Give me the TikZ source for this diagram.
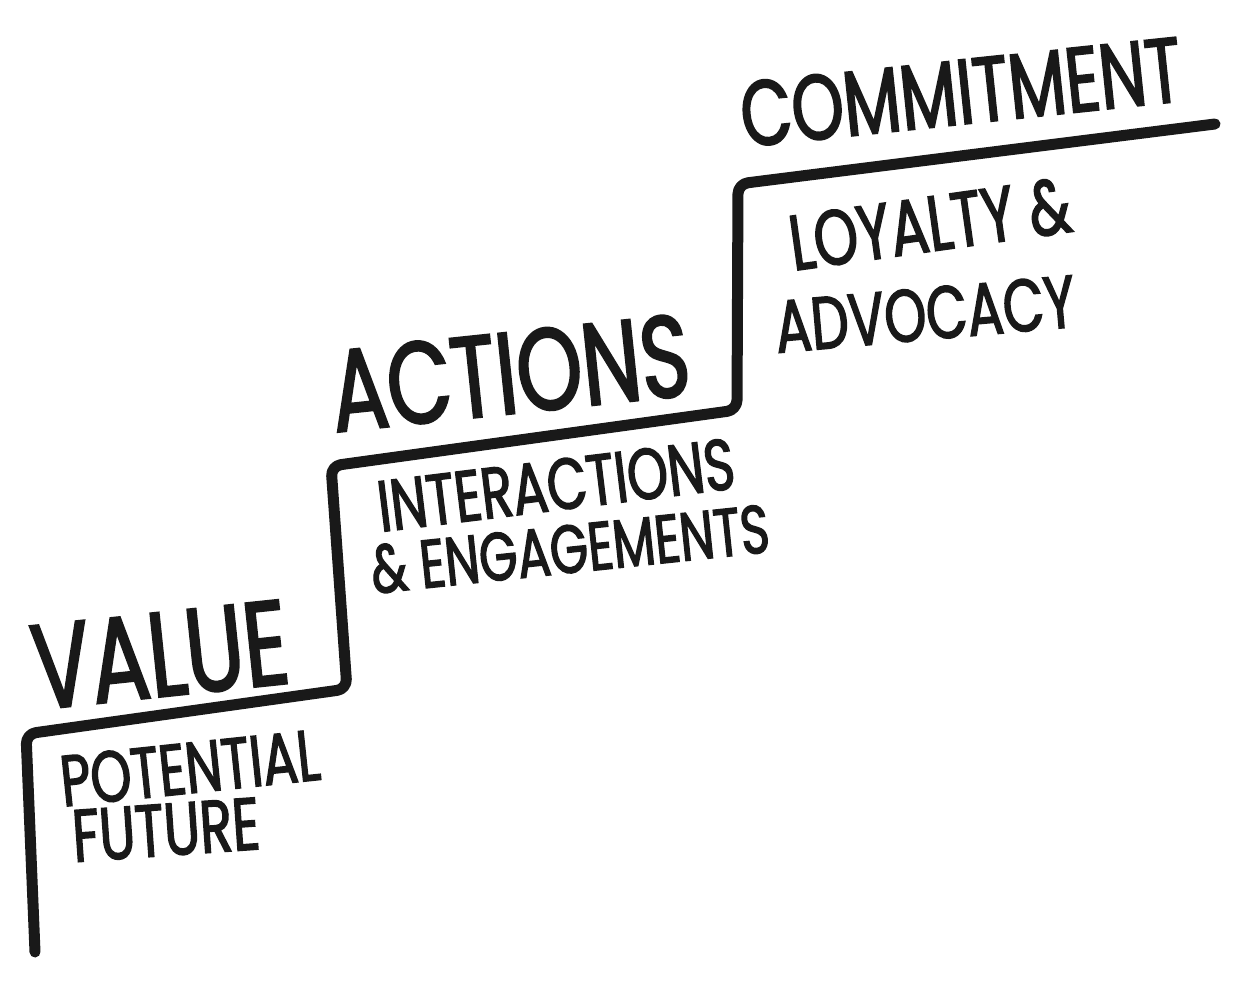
\documentclass[tikz,border=0pt]{standalone}
\usepackage{fontspec}
\newfontfamily\hand[FakeStretch=0.72,FakeBold=2]{Poppins}
\begin{document}
\begin{tikzpicture}[x=1pt,y=-1pt,
  stair/.style={line width=11pt, line join=round, line cap=round, rounded corners=10pt, draw=black!90},
  lbl/.style={inner sep=0pt, text=black!90}]
\useasboundingbox (0,0) rectangle (1237,992);
% staircase
\coordinate (s0) at (35,952);
\coordinate (s1) at (26,734);
\coordinate (s2) at (347,689);
\coordinate (s3) at (331,466);
\coordinate (s4) at (737,410);
\coordinate (s5) at (738,184);
\coordinate (s6) at (1215,124);
\draw[stair] (s0) -- (s1) -- (s2) -- (s3) -- (s4) -- (s5) -- (s6);
% labels
\node[lbl, rotate=6, font=\hand\fontsize{120}{120}\selectfont] (value) at (160,655) {VALUE};
\node[lbl, rotate=6, font=\hand\fontsize{72}{72}\selectfont] (potential) at (190,768) {POTENTIAL};
\node[lbl, rotate=4, font=\hand\fontsize{74}{74}\selectfont] (future) at (166,830) {FUTURE};
\node[lbl, rotate=6, font=\hand\fontsize{116}{116}\selectfont] (actions) at (510,373) {ACTIONS};
\node[lbl, rotate=7, font=\hand\fontsize{72}{72}\selectfont] (interactions) at (556,485) {INTERACTIONS};
\node[lbl, rotate=6, font=\hand\fontsize{68}{68}\selectfont] (engagements) at (570,549) {\&\ ENGAGEMENTS};
\node[lbl, rotate=6, font=\hand\fontsize{92}{92}\selectfont] (commitment) at (961,92) {COMMITMENT};
\node[lbl, rotate=8, font=\hand\fontsize{78}{78}\selectfont] (loyalty) at (930,224) {LOYALTY \&};
\node[lbl, rotate=5, font=\hand\fontsize{74}{74}\selectfont] (advocacy) at (925,314) {ADVOCACY};
\end{tikzpicture}
\end{document}
